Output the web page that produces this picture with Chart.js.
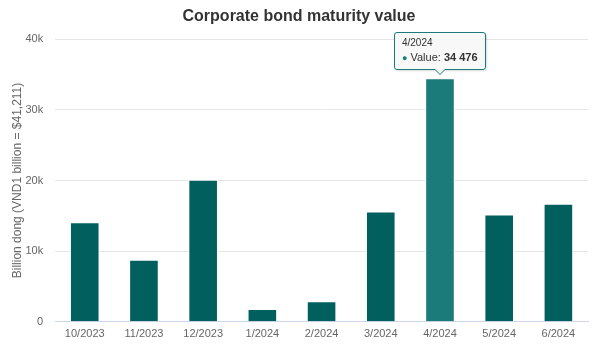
<!DOCTYPE html>
<html>
<head>
<meta charset="utf-8">
<script src="https://cdn.jsdelivr.net/npm/chart.js@4"></script>
<style>
  html, body { margin: 0; padding: 0; background: #fff; }
  #wrap { position: relative; width: 600px; height: 352px; }
  #tip {
    position: absolute; pointer-events: none;
    background: rgba(247,247,247,0.9); border: 1px solid #1b7a7a; border-radius: 3px;
    box-shadow: 1px 1px 2px rgba(0,0,0,0.15);
    font-family: "Liberation Sans", Arial, sans-serif; color: #333;
    padding: 4px 7px 4px 7px; white-space: nowrap;
  }
  #tip .t { font-size: 10px; margin-bottom: 3px; line-height: 11px; }
  #tip .b { font-size: 11px; line-height: 13px; }
  #tip .dot { color: #1b7a7a; font-size: 9px; }
  #tip:after, #tip:before {
    content: ""; position: absolute; left: 50%; border: solid transparent;
  }
  #tip:before { top: 100%; margin-left: -6px; border-width: 6px; border-top-color: #1b7a7a; }
  #tip:after { top: 100%; margin-left: -5px; border-width: 5px; border-top-color: rgba(247,247,247,1); }
</style>
</head>
<body>
<div id="wrap">
  <canvas id="chart" width="600" height="352"></canvas>
  <div id="tip" style="display:none"></div>
</div>
<script>
const months = ['10/2023', '11/2023', '12/2023', '1/2024', '2/2024', '3/2024', '4/2024', '5/2024', '6/2024'];
const maturity_value = [14100, 8800, 20100, 1800, 2900, 15600, 34476, 15200, 16700];
const y_ticks = [0, 10000, 20000, 30000, 40000];

const active_index = 6;
const bar_color = '#015f5e';
const hover_color = '#1b7a7a';
const font_family = '"Liberation Sans", Arial, sans-serif';

function fmt_value(v) {
    return String(v).replace(/\B(?=(\d{3})+(?!\d))/g, ' ');
}

function external_tooltip(context) {
    const tip = document.getElementById('tip');
    const tooltip = context.tooltip;
    if (tooltip.opacity === 0 || !tooltip.dataPoints || !tooltip.dataPoints.length) {
        tip.style.display = 'none';
        return;
    }
    const point = tooltip.dataPoints[0];
    tip.innerHTML = '<div class="t">' + point.label + '</div>' +
        '<div class="b"><span class="dot">\u25CF</span> Value: <b>' + fmt_value(point.raw) + '</b></div>';
    tip.style.display = 'block';
    const w = tip.offsetWidth;
    const h = tip.offsetHeight;
    tip.style.left = (tooltip.caretX - w / 2) + 'px';
    tip.style.top = (tooltip.caretY - h - 8) + 'px';
}

const chart = new Chart(document.getElementById('chart'), {
    type: 'bar',
    data: {
        labels: months,
        datasets: [{
            label: 'Value',
            data: maturity_value,
            backgroundColor: (ctx) => ctx.dataIndex === active_index ? hover_color : bar_color,
            hoverBackgroundColor: (ctx) => ctx.dataIndex === active_index ? hover_color : bar_color,
            borderColor: '#ffffff',
            borderWidth: 1,
            barPercentage: 0.5,
            categoryPercentage: 1
        }]
    },
    options: {
        responsive: false,
        animation: false,
        events: [],
        layout: { padding: { left: 10, right: 12, top: 0, bottom: 5 } },
        scales: {
            x: {
                grid: { display: false, drawTicks: false },
                border: { color: '#ccd6eb' },
                ticks: { color: '#666', font: { family: font_family, size: 11 }, padding: 6 }
            },
            y: {
                min: 0,
                max: 40000,
                afterBuildTicks: (axis) => { axis.ticks = y_ticks.map(v => ({ value: v })); },
                grid: { color: '#e6e6e6' , drawTicks: false },
                border: { display: false },
                ticks: {
                    color: '#666',
                    font: { family: font_family, size: 11 },
                    padding: 12,
                    callback: (v) => v === 0 ? '0' : (v / 1000) + 'k'
                },
                title: {
                    display: true,
                    text: 'Billion dong (VND1 billion = $41,211)',
                    color: '#666',
                    font: { family: font_family, size: 12 },
                    padding: { top: 0, bottom: -11 }
                }
            }
        },
        plugins: {
            legend: { display: false },
            title: {
                display: true,
                text: 'Corporate bond maturity value',
                color: '#333',
                font: { family: font_family, size: 16, weight: 'bold' },
                padding: { top: 7, bottom: 13 }
            },
            tooltip: {
                enabled: false,
                external: external_tooltip
            }
        }
    }
});

chart.tooltip.setActiveElements([{ datasetIndex: 0, index: active_index }], { x: 0, y: 0 });
chart.update();
</script>
</body>
</html>
